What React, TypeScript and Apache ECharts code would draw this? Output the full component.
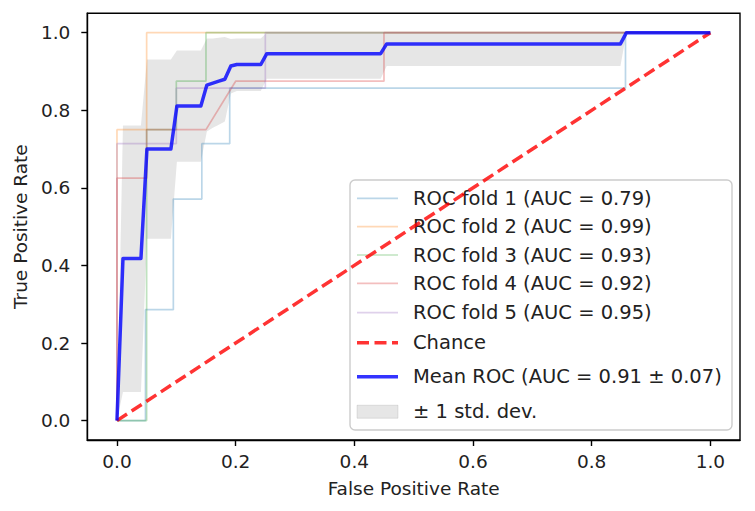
import React, { useEffect, useRef } from 'react';
import * as echarts from 'echarts';

// Tick values for both axes
const tickValues = [0, 0.2, 0.4, 0.6, 0.8, 1.0];

// Individual folds (FPR / TPR)
const fold1Fpr = [0, 0.048, 0.048, 0.095, 0.095, 0.143, 0.143, 0.19, 0.19, 0.857, 0.857, 1];
const fold1Tpr = [0, 0, 0.286, 0.286, 0.571, 0.571, 0.714, 0.714, 0.857, 0.857, 1, 1];
const fold2Fpr = [0, 0, 0.05, 0.05, 1];
const fold2Tpr = [0, 0.75, 0.75, 1, 1];
const fold3Fpr = [0, 0.05, 0.05, 0.1, 0.1, 0.15, 0.15, 1];
const fold3Tpr = [0, 0, 0.75, 0.75, 0.875, 0.875, 1, 1];
const fold4Fpr = [0, 0, 0.05, 0.05, 0.15, 0.2, 0.45, 0.45, 1];
const fold4Tpr = [0, 0.625, 0.625, 0.75, 0.75, 0.875, 0.875, 1, 1];
const fold5Fpr = [0, 0, 0.1, 0.1, 0.25, 0.25, 1];
const fold5Tpr = [0, 0.714, 0.714, 0.857, 0.857, 1, 1];

// Chance diagonal
const chanceFpr = [0, 1];
const chanceTpr = [0, 1];

// Mean ROC and ±1 std band
const meanFpr = [0, 0.0101, 0.0404, 0.0505, 0.0909, 0.101, 0.1414, 0.1515, 0.1616, 0.1717, 0.1818, 0.1919, 0.202, 0.2424, 0.2525, 0.4444, 0.4545, 0.8485, 0.8586, 1];
const meanTpr = [0, 0.418, 0.418, 0.7, 0.7, 0.811, 0.811, 0.865, 0.87, 0.875, 0.88, 0.914, 0.918, 0.918, 0.946, 0.946, 0.971, 0.971, 1, 1];
const upperTpr = [0, 0.761, 0.761, 0.931, 0.931, 0.954, 0.954, 0.985, 0.985, 0.987, 0.989, 0.984, 0.985, 0.985, 1, 1, 1, 1, 1, 1];
const lowerTpr = [0, 0.074, 0.074, 0.469, 0.469, 0.667, 0.667, 0.745, 0.755, 0.763, 0.771, 0.843, 0.85, 0.85, 0.881, 0.881, 0.914, 0.914, 1, 1];

// Labels
const foldLabels = [
  'ROC fold 1 (AUC = 0.79)',
  'ROC fold 2 (AUC = 0.99)',
  'ROC fold 3 (AUC = 0.93)',
  'ROC fold 4 (AUC = 0.92)',
  'ROC fold 5 (AUC = 0.95)',
];
const chanceLabel = 'Chance';
const meanLabel = 'Mean ROC (AUC = 0.91 ± 0.07)';
const bandLabel = '± 1 std. dev.';
const xName = 'False Positive Rate';
const yName = 'True Positive Rate';

const foldColors = ['#1f77b4', '#ff7f0e', '#2ca02c', '#d62728', '#9467bd'];

export default function App() {
  const ref = useRef<HTMLDivElement>(null);

  useEffect(() => {
    const chart = echarts.init(ref.current!, null, { renderer: 'svg' });
    const font = 'DejaVu Sans';
    const textColor = '#222222';
    const fs = 18.5;
    const lfs = 19.5;

    const pair = (xs: number[], ys: number[]) => xs.map((x, i) => [x, ys[i]]);
    const folds = [
      pair(fold1Fpr, fold1Tpr),
      pair(fold2Fpr, fold2Tpr),
      pair(fold3Fpr, fold3Tpr),
      pair(fold4Fpr, fold4Tpr),
      pair(fold5Fpr, fold5Tpr),
    ];

    const foldSeries = folds.map((d, i) => ({
      type: 'line',
      name: foldLabels[i],
      data: d,
      symbol: 'none',
      z: 2,
      lineStyle: { color: foldColors[i], width: 1.7, opacity: 0.3 },
    }));

    const bandSeries = {
      type: 'custom',
      name: bandLabel,
      z: 1,
      data: meanFpr.map((x, i) => [x, lowerTpr[i], upperTpr[i]]),
      encode: { x: 0, y: [1, 2] },
      renderItem: (params: any, api: any) => {
        if (params.dataIndex !== 0) return null;
        const pts: number[][] = [];
        for (let i = 0; i < meanFpr.length; i++) pts.push(api.coord([meanFpr[i], upperTpr[i]]));
        for (let i = meanFpr.length - 1; i >= 0; i--) pts.push(api.coord([meanFpr[i], lowerTpr[i]]));
        return {
          type: 'polygon',
          shape: { points: pts },
          style: { fill: 'rgba(128,128,128,0.2)', stroke: 'none' },
        };
      },
    };

    // Legend drawn with graphic elements
    const lx = 350, ly = 180, lw = 382, lh = 250;
    const hx1 = 357, hx2 = 398, tx = 413;
    const rowY = [198.3, 226.7, 255, 283.3, 312.7, 342.7, 376.7, 411.7];
    const legendChildren: any[] = [
      {
        type: 'rect',
        shape: { x: lx, y: ly, width: lw, height: lh, r: 5 },
        style: { fill: 'rgba(255,255,255,0.8)', stroke: '#cccccc', lineWidth: 1.4 },
      },
    ];
    foldLabels.forEach((lab, i) => {
      legendChildren.push({
        type: 'line',
        shape: { x1: hx1, y1: rowY[i], x2: hx2, y2: rowY[i] },
        style: { stroke: foldColors[i], lineWidth: 1.7, opacity: 0.3 },
      });
      legendChildren.push({
        type: 'text',
        style: { text: lab, x: tx, y: rowY[i], fill: textColor, font: `${lfs}px "${font}"`, verticalAlign: 'middle' },
      });
    });
    legendChildren.push({
      type: 'line',
      shape: { x1: hx1, y1: rowY[5], x2: hx2, y2: rowY[5] },
      style: { stroke: 'rgba(255,0,0,0.8)', lineWidth: 3.5, lineDash: [12, 5.5] },
    });
    legendChildren.push({
      type: 'text',
      style: { text: chanceLabel, x: tx, y: rowY[5], fill: textColor, font: `${lfs}px "${font}"`, verticalAlign: 'middle' },
    });
    legendChildren.push({
      type: 'line',
      shape: { x1: hx1, y1: rowY[6], x2: hx2, y2: rowY[6] },
      style: { stroke: 'rgba(0,0,255,0.8)', lineWidth: 3.5 },
    });
    legendChildren.push({
      type: 'text',
      style: { text: meanLabel, x: tx, y: rowY[6], fill: textColor, font: `${lfs}px "${font}"`, verticalAlign: 'middle' },
    });
    legendChildren.push({
      type: 'rect',
      shape: { x: hx1, y: rowY[7] - 6.5, width: hx2 - hx1, height: 13 },
      style: { fill: 'rgba(128,128,128,0.2)', stroke: 'rgba(128,128,128,0.2)', lineWidth: 1 },
    });
    legendChildren.push({
      type: 'text',
      style: { text: bandLabel, x: tx, y: rowY[7], fill: textColor, font: `${lfs}px "${font}"`, verticalAlign: 'middle' },
    });

    const axisCommon = {
      type: 'value',
      min: -0.05,
      max: 1.05,
      nameLocation: 'middle',
      nameTextStyle: { fontFamily: font, fontSize: fs, color: textColor },
      axisLine: { show: true, onZero: false, lineStyle: { color: '#000', width: 1.4 } },
      axisTick: { show: true, length: 6, inside: false, customValues: tickValues, lineStyle: { color: '#000', width: 1.4 } },
      splitLine: { show: false },
    };

    chart.setOption({
      animation: false,
      backgroundColor: '#ffffff',
      grid: {
        left: 87.3,
        right: 15,
        top: 13.3,
        bottom: 71,
        show: true,
        borderColor: '#000',
        borderWidth: 1.4,
        backgroundColor: 'transparent',
      },
      xAxis: {
        ...axisCommon,
        name: xName,
        nameGap: 39,
        axisLabel: {
          customValues: tickValues,
          formatter: (v: number) => v.toFixed(1),
          fontFamily: font,
          fontSize: fs,
          color: textColor,
          margin: 12,
        },
      },
      yAxis: {
        ...axisCommon,
        name: yName,
        nameGap: 55,
        axisLabel: {
          customValues: tickValues,
          formatter: (v: number) => v.toFixed(1),
          fontFamily: font,
          fontSize: fs,
          color: textColor,
          margin: 17,
        },
      },
      series: [
        bandSeries,
        ...foldSeries,
        {
          type: 'line',
          name: chanceLabel,
          data: pair(chanceFpr, chanceTpr),
          symbol: 'none',
          z: 3,
          lineStyle: { color: 'rgba(255,0,0,0.8)', width: 3.5, type: [12, 5.5] },
        },
        {
          type: 'line',
          name: meanLabel,
          data: pair(meanFpr, meanTpr),
          symbol: 'none',
          z: 4,
          lineStyle: { color: 'rgba(0,0,255,0.8)', width: 3.5, join: 'round' },
        },
      ],
      graphic: [{ type: 'group', z: 100, children: legendChildren }],
    });

    return () => chart.dispose();
  }, []);

  return <div ref={ref} style={{ position: 'fixed', left: 0, top: 0, width: 755, height: 511 }} />;
}
